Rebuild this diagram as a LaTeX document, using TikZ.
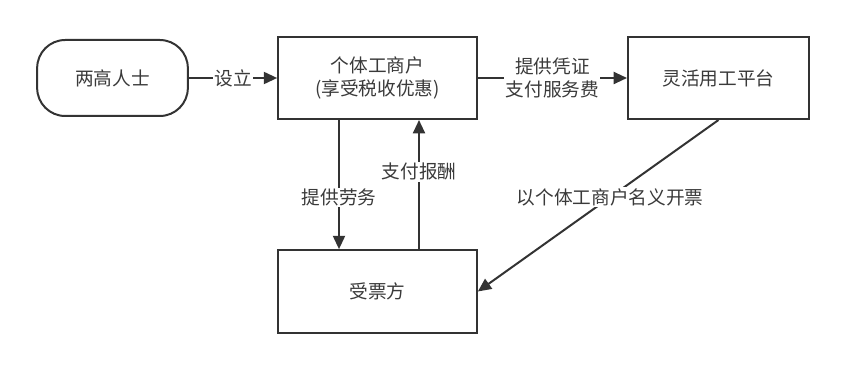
\documentclass[tikz,border=0pt]{standalone}
\usepackage{fontspec}
\setmainfont{Noto Sans CJK SC}
\usepackage{xcolor}
\usepackage{tikz}
\usetikzlibrary{arrows.meta}
\definecolor{flowink}{HTML}{333333}
\definecolor{flowtext}{HTML}{3A3A3A}
\tikzset{
  block/.style={draw=flowink, align=center, fill=white, line width=1.5pt, text=flowtext, font=\fontsize{14pt}{17pt}\selectfont},
  startblock/.style={block, rounded corners=21pt, minimum width=113pt, minimum height=57pt},
  bus/.style={-{Triangle[length=10pt, width=9pt]}, draw=flowink, line width=1.5pt},
  buslabel/.style={fill=white, text=flowtext, align=center, inner sep=1pt, font=\fontsize{14pt}{17pt}\selectfont}
}
\begin{document}
\begin{tikzpicture}[x=0.75pt, y=-0.75pt]
  \useasboundingbox (0,0) rectangle (846,370);

  \node[startblock] (ggrs) at (112.5,78) {两高人士};
  \node[block, minimum width=149pt, minimum height=61.5pt] (gtgs) at (377.5,78) {个体工商户\\(享受税收优惠)};
  \node[block, minimum width=135.75pt, minimum height=61.5pt] (lhyg) at (718.5,78) {灵活用工平台};
  \node[block, minimum width=149pt, minimum height=62pt] (spf) at (377.5,291.5) {受票方};

  \coordinate (lwx) at (339,0);
  \coordinate (bcx) at (419,0);

  \draw[bus] (ggrs) -- node[buslabel] {设立} (gtgs);
  \draw[bus] (gtgs) -- node[buslabel] {提供凭证\\支付服务费} (lhyg);
  \draw[bus] (gtgs.south -| lwx) -- node[buslabel, pos=0.6] {提供劳务} (spf.north -| lwx);
  \draw[bus] (spf.north -| bcx) -- node[buslabel, pos=0.6] {支付报酬} (gtgs.south -| bcx);
  \draw[bus] (lhyg.south) -- node[buslabel, pos=0.45] {以个体工商户名义开票} (spf.east);
\end{tikzpicture}
\end{document}
